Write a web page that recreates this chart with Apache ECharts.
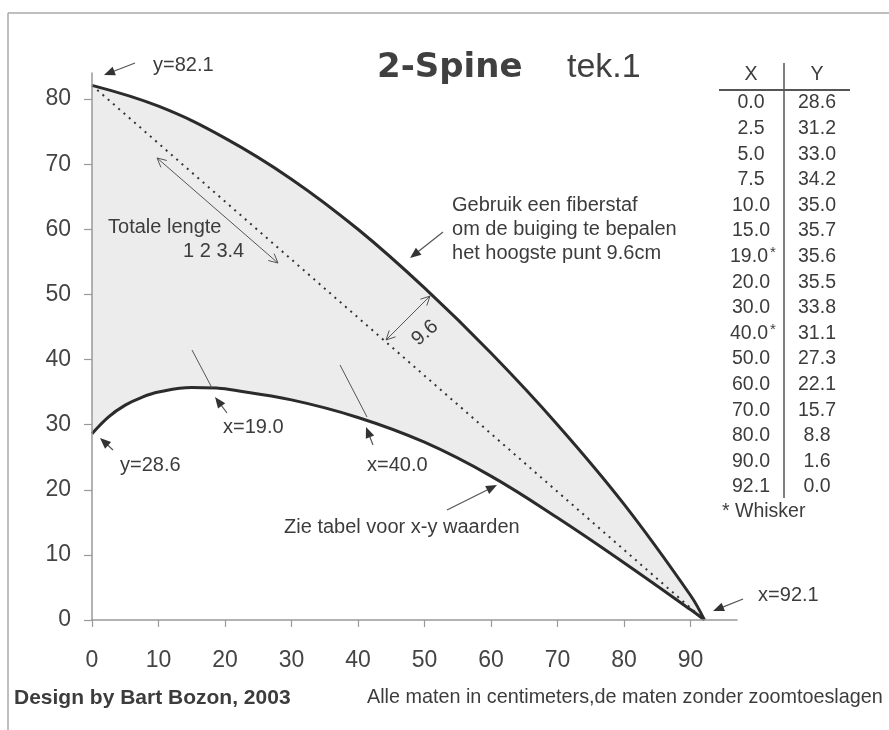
<!DOCTYPE html>
<html><head><meta charset="utf-8">
<script src="https://cdn.jsdelivr.net/npm/echarts@6/dist/echarts.min.js"></script>
<style>html,body{margin:0;padding:0;background:#fff}#c{width:889px;height:730px}</style>
</head><body><div id="c"></div>
<script>
// Table / lower curve (x-y waarden)
const tableX = [0.0, 2.5, 5.0, 7.5, 10.0, 15.0, 19.0, 20.0, 30.0, 40.0, 50.0, 60.0, 70.0, 80.0, 90.0, 92.1];
const tableY = [28.6, 31.2, 33.0, 34.2, 35.0, 35.7, 35.6, 35.5, 33.8, 31.1, 27.3, 22.1, 15.7, 8.8, 1.6, 0.0];
const whiskerX = [19.0, 40.0];
// Upper curve
const upperX = [0, 10, 20, 30, 40, 50, 60, 70, 80, 90, 92.1];
const upperY = [82.1, 78.9, 74.0, 67.7, 60.0, 51.0, 41.0, 30.0, 17.8, 3.8, 0.0];
// Straight chord (totale lengte)
const chordX = [0, 92.1];
const chordY = [82.1, 0];
// Tick labels
const xTicks = [0, 10, 20, 30, 40, 50, 60, 70, 80, 90];
const yTicks = [0, 10, 20, 30, 40, 50, 60, 70, 80];

const FONT = '"Liberation Sans", Arial, sans-serif';
const TXT = '#3c3c3c';
const zip = (a, b) => a.map((v, i) => [v, b[i]]);

const chart = echarts.init(document.getElementById('c'), null, {renderer: 'canvas'});
chart.setOption({
  animation: false,
  backgroundColor: '#fff',
  grid: {left: 92, right: 152, top: 73, bottom: 110, containLabel: false},
  xAxis: {
    type: 'value', min: 0, max: 97, interval: 10, z: 10,
    axisLine: {show: true, onZero: false, lineStyle: {color: '#999', width: 1.5}},
    axisTick: {show: true, length: 7, customValues: xTicks, lineStyle: {color: '#999', width: 1.2}},
    axisLabel: {customValues: xTicks, margin: 29, fontSize: 23, fontFamily: FONT, color: '#444'},
    splitLine: {show: false}
  },
  yAxis: {
    type: 'value', min: 0, max: 84, interval: 10, z: 10,
    axisLine: {show: true, onZero: false, lineStyle: {color: '#999', width: 1.5}},
    axisTick: {show: true, length: 8, customValues: yTicks, lineStyle: {color: '#999', width: 1.2}},
    axisLabel: {customValues: yTicks, margin: 21, fontSize: 23, fontFamily: FONT, color: '#444'},
    splitLine: {show: false}
  },
  series: [
    {
      name: 'boven', type: 'line', data: zip(upperX, upperY), smooth: 0.4, symbol: 'none', z: 2,
      lineStyle: {color: '#2b2b2b', width: 3}, areaStyle: {color: '#ececec', opacity: 1}
    },
    {
      name: 'onder', type: 'line', data: zip(tableX, tableY), smooth: 0.4, symbol: 'none', z: 3,
      lineStyle: {color: '#2b2b2b', width: 3}, areaStyle: {color: '#ffffff', opacity: 1}
    },
    {
      name: 'koorde', type: 'line', data: zip(chordX, chordY), symbol: 'none', z: 4,
      lineStyle: {color: '#333', width: 2, type: [2, 5]}
    }
  ]
});

// Annotations in data coordinates
const P = p => chart.convertToPixel({gridIndex: 0}, p);
const g = [];
function text(pt, s, opts) {
  opts = opts || {};
  const [x, y] = Array.isArray(pt[0]) ? pt[0] : P(pt);
  g.push({
    type: 'text', x, y, rotation: opts.rotation || 0, z: 100,
    style: {
      text: s, fontSize: opts.size || 20, fontFamily: opts.family || FONT,
      fontWeight: opts.weight || 'normal', fill: opts.color || TXT,
      align: opts.align || 'left', verticalAlign: 'middle',
      textAlign: opts.align || 'left', textVerticalAlign: 'middle'
    }
  });
}
function seg(a, b, w, c) {
  g.push({type: 'line', z: 100, shape: {x1: a[0], y1: a[1], x2: b[0], y2: b[1]},
    style: {stroke: c || '#444', lineWidth: w || 1}});
}
function arrowFilled(tailD, headD) {
  const t = P(tailD), h = P(headD);
  const dx = h[0] - t[0], dy = h[1] - t[1], L = Math.hypot(dx, dy);
  const ux = dx / L, uy = dy / L, nx = -uy, ny = ux;
  const len = 11, w = 4.5;
  const b = [h[0] - ux * len, h[1] - uy * len];
  seg(t, [h[0] - ux * len * 0.7, h[1] - uy * len * 0.7], 1.2, '#555');
  g.push({type: 'polygon', z: 100, shape: {points: [h, [b[0] + nx * w, b[1] + ny * w], [b[0] - nx * w, b[1] - ny * w]]},
    style: {fill: '#333'}});
}
function openHead(h, ux, uy) {
  const nx = -uy, ny = ux, len = 9, w = 4.5;
  const b = [h[0] - ux * len, h[1] - uy * len];
  g.push({type: 'polyline', z: 100, shape: {points: [[b[0] + nx * w, b[1] + ny * w], h, [b[0] - nx * w, b[1] - ny * w]]},
    style: {stroke: '#555', lineWidth: 1, fill: null}});
}
function arrowDouble(aD, bD) {
  const a = P(aD), b = P(bD);
  const dx = b[0] - a[0], dy = b[1] - a[1], L = Math.hypot(dx, dy);
  const ux = dx / L, uy = dy / L;
  seg(a, b, 1, '#555');
  openHead(b, ux, uy);
  openHead(a, -ux, -uy);
}

// y=82.1
arrowFilled([6.47, 85.53], [1.80, 83.69]);
text([9.17, 85.23], 'y=' + upperY[0].toFixed(1));
// Totale lengte
text([2.41, 60.35], 'Totale lengte');
text([13.69, 56.66], '1 2 3.4');
arrowDouble([9.78, 70.95], [27.97, 54.82]);
// Gebruik een fiberstaf
text([54.14, 63.73], 'Gebruik een fiberstaf');
text([54.14, 60.04], 'om de buiging te bepalen');
text([54.14, 56.36], 'het hoogste punt 9.6cm');
arrowFilled([52.79, 59.58], [47.83, 55.59]);
// 9.6
arrowDouble([44.22, 43.0], [50.83, 49.75]);
text([50.08, 44.07], '9.6', {align: 'center', rotation: 0.72});
// whisker x=19
seg(P([15.04, 41.46]), P([18.05, 35.63]), 1, '#555');
arrowFilled([20.30, 31.79], [18.50, 34.24]);
text([19.70, 29.64], 'x=' + whiskerX[0].toFixed(1));
// whisker x=40
seg(P([37.30, 39.16]), P([41.36, 31.17]), 1, '#555');
arrowFilled([42.26, 26.87], [41.21, 29.64]);
text([41.36, 23.80], 'x=' + whiskerX[1].toFixed(1));
// y=28.6
arrowFilled([3.16, 26.11], [1.20, 27.95]);
text([4.21, 23.80], 'y=' + tableY[0].toFixed(1));
// Zie tabel
text([28.88, 14.28], 'Zie tabel voor x-y waarden');
arrowFilled([53.39, 16.89], [60.91, 20.73]);
// x=92.1
arrowFilled([97.91, 3.22], [93.40, 1.38]);
text([100.17, 3.84], 'x=' + tableX[tableX.length - 1].toFixed(1));

// Frame
seg([8, 13], [889, 13], 1.5, '#aaa');
seg([8, 13], [8, 730], 1.5, '#aaa');

// Title
text([[377, 68]], '2-Spine', {size: 34, weight: 'bold', family: '"DejaVu Sans", sans-serif', color: '#404040'});
text([[567, 68]], 'tek.1', {size: 34, color: '#404040'});

// Table
const colX = 751, colY = 817;
text([[colX, 75]], 'X', {align: 'center', size: 19.5});
text([[colY, 75]], 'Y', {align: 'center', size: 19.5});
seg([719, 90], [850, 90], 2, '#555');
seg([784, 63], [784, 498], 1.5, '#555');
tableX.forEach((xv, i) => {
  const y = 103 + i * 25.6;
  const isW = whiskerX.indexOf(xv) >= 0;
  text([[isW ? colX - 2 : colX, y]], xv.toFixed(1), {align: 'center', size: 19.5});
  if (isW) text([[colX + 19, y - 4]], '*', {size: 15});
  text([[colY, y]], tableY[i].toFixed(1), {align: 'center', size: 19.5});
});
text([[722, 512]], '* Whisker', {size: 19.5});

// Footer
text([[14, 698]], 'Design by Bart Bozon, 2003', {size: 21, weight: 'bold'});
text([[367, 698]], 'Alle maten in centimeters,de maten zonder zoomtoeslagen', {size: 19.8});

chart.setOption({graphic: {elements: g}});
</script></body></html>
